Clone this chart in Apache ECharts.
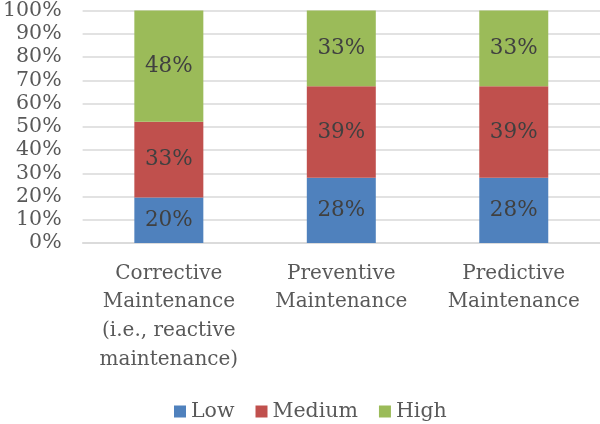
<!DOCTYPE html>
<html><head><meta charset="utf-8">
<script src="https://cdn.jsdelivr.net/npm/echarts@6/dist/echarts.min.js"></script>
<style>html,body{margin:0;padding:0;background:#fff}#c{width:600px;height:424px}</style>
</head><body><div id="c"></div>
<script>
const categories = ["Corrective\nMaintenance\n(i.e., reactive\nmaintenance)", "Preventive\nMaintenance", "Predictive\nMaintenance"];
const seriesNames = ["Low", "Medium", "High"];
const lowValues = [19.6, 28.1, 28.1];
const mediumValues = [32.6, 39.3, 39.3];
const highValues = [47.8, 32.6, 32.6];
const yTicks = [0, 10, 20, 30, 40, 50, 60, 70, 80, 90, 100];
const colors = ["#4f81bd", "#c0504d", "#9bbb59"];
const FONT = "DejaVu Serif";

const chart = echarts.init(document.getElementById('c'), null, {renderer: 'canvas'});
const mk = (name, data, color) => ({
  name, type: 'bar', stack: 'total', data, barWidth: '40%',
  itemStyle: {color},
  label: {show: true, position: 'inside', formatter: p => Math.round(p.value) + '%',
    color: '#404040', fontFamily: FONT, fontSize: 21.5}
});
chart.setOption({
  animation: false,
  grid: {left: 80, right: 0, top: 9, bottom: 181, containLabel: false},
  legend: {
    data: seriesNames, top: 396, left: 169, itemWidth: 12, itemHeight: 12, itemGap: 21,
    icon: 'rect', padding: 5,
    textStyle: {fontFamily: FONT, fontSize: 20.5, color: '#595959'}
  },
  xAxis: {
    type: 'category', data: categories,
    axisLine: {lineStyle: {color: '#d9d9d9', width: 1.5}},
    axisTick: {show: false},
    axisLabel: {fontFamily: FONT, fontSize: 20, color: '#595959', lineHeight: 28.7, margin: 16, interval: 0}
  },
  yAxis: {
    type: 'value', min: yTicks[0], max: yTicks[yTicks.length - 1], interval: 10,
    axisLabel: {formatter: '{value}%', fontFamily: FONT, fontSize: 20.5, color: '#595959', margin: 21},
    splitLine: {lineStyle: {color: '#d9d9d9', width: 1.5}},
    axisLine: {show: false}, axisTick: {show: false}
  },
  series: [mk(seriesNames[0], lowValues, colors[0]), mk(seriesNames[1], mediumValues, colors[1]), mk(seriesNames[2], highValues, colors[2])]
});
</script></body></html>
